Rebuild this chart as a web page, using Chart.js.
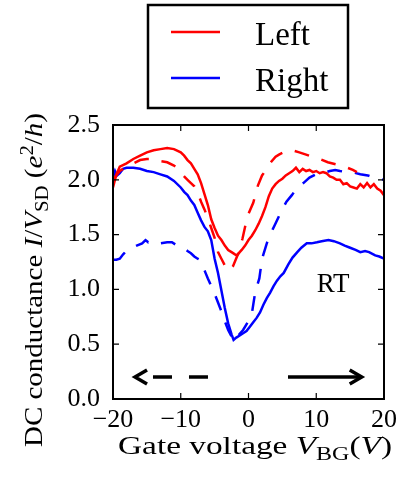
<!DOCTYPE html>
<html><head><meta charset="utf-8">
<script src="https://cdn.jsdelivr.net/npm/chart.js@4"></script>
<style>html,body{margin:0;padding:0;background:#fff;}#wrap{width:413px;height:479px;}</style>
</head><body><div id="wrap"><canvas id="c" width="413" height="479"></canvas></div>
<script>
// ---- data ----
const seriesNames = ['Left', 'Right'];
const xTicks = [-20, -10, 0, 10, 20];
const yTicks = [0, 0.5, 1.0, 1.5, 2.0, 2.5];

// Left, forward sweep (solid red)
const leftFwdX = [-20,-19.5,-19,-18,-17,-16,-15,-14,-13,-12,-11,-10,-9.5,-9,-8.5,-8,-7.5,-7,-6.5,-6,-5.5,-5,-4.5,-4,-3.5,-3,-2.5,-2,-1.7,-1.3,-1,-0.5,0,0.5,1,1.5,2,2.5,3,3.5,4,4.5,5,5.5,6,6.5,7,7.5,8,8.5,9,9.5,10,10.5,11,11.5,12,12.5,13,13.5,14,14.5,15,15.5,16,16.5,17,17.5,18,18.5,19,19.5,20];
const leftFwdY = [1.93,2.05,2.12,2.15,2.19,2.22,2.25,2.27,2.28,2.29,2.28,2.25,2.22,2.18,2.15,2.10,2.05,1.97,1.87,1.77,1.64,1.56,1.49,1.45,1.40,1.36,1.34,1.32,1.31,1.34,1.36,1.40,1.45,1.49,1.54,1.60,1.67,1.75,1.85,1.92,1.96,1.99,2.01,2.04,2.06,2.08,2.11,2.07,2.10,2.08,2.09,2.07,2.08,2.06,2.07,2.06,2.03,2.02,2.00,2.00,1.96,1.97,1.94,1.93,1.92,1.96,1.93,1.97,1.93,1.96,1.92,1.90,1.86];
// Left, backward sweep (dashed red)
const leftBwdX = [-20,-19,-18,-17,-16,-15,-14,-13,-12,-11,-10.5,-10,-9.5,-9,-8.5,-8,-7.5,-7,-6.5,-6,-5.5,-5,-4.5,-4,-3.5,-3.2,-2.8,-2.3,-1.5,-0.9,-0.4,0,0.7,1.4,2,2.7,3.3,4,4.5,5.5,6.4,7.5,8.5,9.4,10.5,11.7,13,14.2,15.4,16];
const leftBwdY = [2.0,2.08,2.12,2.15,2.18,2.19,2.19,2.17,2.16,2.13,2.11,2.07,2.03,2.0,1.97,1.94,1.88,1.80,1.73,1.65,1.56,1.47,1.34,1.28,1.22,1.19,1.17,1.21,1.33,1.46,1.60,1.69,1.79,1.95,2.04,2.10,2.16,2.21,2.23,2.26,2.27,2.25,2.23,2.21,2.19,2.16,2.14,2.12,2.09,2.07];
// Right, forward sweep (solid blue)
const rightFwdX = [-20,-19.7,-19.4,-19,-18.5,-18,-17,-16,-15,-14,-13,-12,-11,-10,-9.5,-9,-8.5,-8,-7.5,-7,-6.5,-6,-5.5,-5,-4.5,-4,-3.5,-3,-2.5,-2.2,-1.8,-1.3,-0.8,-0.3,0.2,0.7,1.2,1.7,2.2,2.7,3.2,3.7,4.2,4.7,5.2,5.9,6.5,7.2,7.8,8.6,9.3,10.1,10.8,11.8,12.6,13.5,14.2,15,15.8,16.5,17.2,17.8,18.7,19.3,20];
const rightFwdY = [2.02,2.08,2.04,2.06,2.10,2.11,2.11,2.10,2.08,2.07,2.05,2.03,1.99,1.93,1.89,1.86,1.81,1.77,1.70,1.63,1.57,1.53,1.45,1.28,1.15,0.99,0.83,0.69,0.59,0.54,0.56,0.58,0.60,0.62,0.66,0.70,0.74,0.79,0.86,0.92,0.97,1.03,1.08,1.12,1.15,1.23,1.29,1.34,1.38,1.42,1.42,1.43,1.44,1.45,1.44,1.42,1.40,1.38,1.36,1.34,1.35,1.34,1.31,1.30,1.28];
// Right, backward sweep (dashed blue)
const rightBwdX = [-20,-19.5,-19,-18.5,-18.2,-17.5,-16.5,-15.7,-15.2,-14.8,-14.3,-13.8,-13,-12,-11.3,-10.8,-10.3,-9.8,-9.4,-9,-8.5,-8,-7.5,-7.2,-6.8,-6.4,-6,-5.5,-5,-4.5,-4,-3.5,-3,-2.5,-2.2,-1.5,-0.8,-0.3,0.5,1,1.6,2,2.7,3.2,3.9,4.9,5.6,6.4,7.2,8.1,9,10,11,12,12.8,13.5,14.5,15.3,16.5,17.6,18.5,19.3,20];
const rightBwdY = [1.27,1.27,1.28,1.32,1.34,1.37,1.40,1.42,1.45,1.43,1.44,1.43,1.42,1.43,1.43,1.41,1.40,1.38,1.37,1.35,1.33,1.30,1.28,1.27,1.22,1.16,1.10,1.03,0.96,0.88,0.80,0.71,0.63,0.57,0.53,0.58,0.63,0.68,0.78,0.98,1.10,1.28,1.42,1.50,1.59,1.72,1.80,1.86,1.93,1.97,2.02,2.05,2.06,2.08,2.09,2.08,2.07,2.07,2.05,2.04,2.02,2.01,2.00];

// sweep-direction arrows (data coords): [tail, head]
const arrowBackX = [-5.98, -16.75];
const arrowFwdX = [5.83, 16.71];
const arrowY = 0.2;
// annotation
const annotText = 'RT';
const annotX = 10.07, annotY = 0.98;

const FONT = '"Liberation Serif", "DejaVu Serif", serif';
const pts = (xs, ys) => xs.map((x, i) => ({x: x, y: ys[i]}));

// rich text (axis titles) pieces
const xTitle = [
  {t: 'Gate voltage ', s: '', k: 1, dy: 0},
  {t: 'V', s: 'italic', k: 1, dy: 0},
  {t: 'BG', s: '', k: 0.72, dy: 0.22},
  {t: '(', s: '', k: 1, dy: 0},
  {t: 'V', s: 'italic', k: 1, dy: 0},
  {t: ')', s: '', k: 1, dy: 0}
];
const yTitle = [
  {t: 'DC conductance ', s: '', k: 1, dy: 0},
  {t: 'I', s: 'italic', k: 1, dy: 0},
  {t: '/', s: '', k: 1, dy: 0},
  {t: 'V', s: 'italic', k: 1, dy: 0},
  {t: 'SD', s: '', k: 0.72, dy: 0.22},
  {t: ' (', s: '', k: 1, dy: 0},
  {t: 'e', s: 'italic', k: 1, dy: 0},
  {t: '2', s: '', k: 0.72, dy: -0.38},
  {t: '/', s: '', k: 1, dy: 0},
  {t: 'h', s: 'italic', k: 1, dy: 0},
  {t: ')', s: '', k: 1, dy: 0}
];

// draws the pieces at a fixed font size, stretched horizontally to the target length
function drawRich(ctx, pieces, cx, cy, rot, size, targetW) {
  let tot = 0;
  pieces.forEach(p => { ctx.font = `${p.s} ${size * p.k}px ${FONT}`; tot += ctx.measureText(p.t).width; });
  const sx = targetW / tot;
  ctx.save();
  ctx.translate(cx, cy);
  ctx.rotate(rot);
  ctx.scale(sx, 1);
  ctx.fillStyle = '#000';
  ctx.textBaseline = 'alphabetic';
  ctx.textAlign = 'left';
  let x = -tot / 2;
  pieces.forEach(p => {
    ctx.font = `${p.s} ${size * p.k}px ${FONT}`;
    ctx.fillText(p.t, x, p.dy * size);
    x += ctx.measureText(p.t).width;
  });
  ctx.restore();
}

function drawArrow(ctx, x0, x1, y, dashed) {
  ctx.save();
  ctx.strokeStyle = '#000';
  ctx.lineWidth = 3.5;
  ctx.lineCap = 'butt';
  if (dashed) ctx.setLineDash([19, 17]);
  ctx.beginPath(); ctx.moveTo(x0, y); ctx.lineTo(x1, y); ctx.stroke();
  ctx.setLineDash([]);
  const dir = x1 > x0 ? 1 : -1;
  ctx.lineJoin = 'miter';
  ctx.beginPath();
  ctx.moveTo(x1 - dir * 12, y - 7);
  ctx.lineTo(x1, y);
  ctx.lineTo(x1 - dir * 12, y + 7);
  ctx.stroke();
  ctx.restore();
}

const decor = {
  id: 'decor',
  afterDatasetsDraw(chart) {
    const ctx = chart.ctx, a = chart.chartArea;
    const xs = chart.scales.x, ys = chart.scales.y;
    ctx.save();
    // frame
    ctx.strokeStyle = '#000'; ctx.lineWidth = 2;
    ctx.strokeRect(a.left, a.top, a.right - a.left, a.bottom - a.top);
    // inward ticks on all sides
    ctx.lineWidth = 1.2;
    ctx.beginPath();
    xTicks.forEach(v => {
      const p = xs.getPixelForValue(v);
      ctx.moveTo(p, a.bottom); ctx.lineTo(p, a.bottom - 6);
      ctx.moveTo(p, a.top); ctx.lineTo(p, a.top + 6);
    });
    yTicks.forEach(v => {
      const p = ys.getPixelForValue(v);
      ctx.moveTo(a.left, p); ctx.lineTo(a.left + 6, p);
      ctx.moveTo(a.right, p); ctx.lineTo(a.right - 6, p);
    });
    ctx.stroke();
    // arrows
    const ay = ys.getPixelForValue(arrowY);
    drawArrow(ctx, xs.getPixelForValue(arrowBackX[0]), xs.getPixelForValue(arrowBackX[1]), ay, true);
    drawArrow(ctx, xs.getPixelForValue(arrowFwdX[0]), xs.getPixelForValue(arrowFwdX[1]), ay, false);
    // annotation
    ctx.fillStyle = '#000';
    ctx.font = `27px ${FONT}`;
    ctx.textAlign = 'left'; ctx.textBaseline = 'alphabetic';
    ctx.fillText(annotText, xs.getPixelForValue(annotX), ys.getPixelForValue(annotY));
    ctx.restore();
  },
  afterDraw(chart) {
    const ctx = chart.ctx;
    // axis titles
    drawRich(ctx, xTitle, 255, 454, 0, 26, 274);
    drawRich(ctx, yTitle, 42, 280, -Math.PI / 2, 25, 334);
    // legend (framed box, upper centre)
    ctx.save();
    ctx.strokeStyle = '#000'; ctx.lineWidth = 2.5;
    ctx.fillStyle = '#fff';
    ctx.fillRect(148, 5, 200, 103);
    ctx.strokeRect(148, 5, 200, 103);
    const entries = chart.data.datasets.filter(d => d.showInLegend);
    entries.forEach((d, i) => {
      const y = 32 + i * 46;
      ctx.strokeStyle = d.borderColor; ctx.lineWidth = 2.5;
      ctx.beginPath(); ctx.moveTo(171, y); ctx.lineTo(220, y); ctx.stroke();
      ctx.fillStyle = '#000';
      ctx.font = `33px ${FONT}`;
      ctx.textAlign = 'left'; ctx.textBaseline = 'alphabetic';
      ctx.fillText(d.label, 255, y + 13);
    });
    ctx.restore();
  }
};

const common = {pointRadius: 0, borderWidth: 2.5, tension: 0, fill: false};
new Chart(document.getElementById('c'), {
  type: 'line',
  data: {
    datasets: [
      Object.assign({label: seriesNames[0], showInLegend: true, data: pts(leftFwdX, leftFwdY), borderColor: '#ff0000'}, common),
      Object.assign({label: seriesNames[0] + ' (back)', showInLegend: false, data: pts(leftBwdX, leftBwdY), borderColor: '#ff0000', borderDash: [15, 13]}, common),
      Object.assign({label: seriesNames[1], showInLegend: true, data: pts(rightFwdX, rightFwdY), borderColor: '#0000ff'}, common),
      Object.assign({label: seriesNames[1] + ' (back)', showInLegend: false, data: pts(rightBwdX, rightBwdY), borderColor: '#0000ff', borderDash: [15, 13]}, common)
    ]
  },
  options: {
    responsive: false,
    animation: false,
    devicePixelRatio: 1,
    layout: {padding: {left: 0, top: 125, right: 29, bottom: 0}},
    plugins: {legend: {display: false}, tooltip: {enabled: false}},
    scales: {
      x: {
        type: 'linear', min: -20, max: 20,
        afterBuildTicks: s => { s.ticks = xTicks.map(v => ({value: v})); },
        ticks: {color: '#000', padding: 6, font: {family: FONT, size: 26},
          callback: v => String(v).replace('-', '\u2212')},
        grid: {display: false, drawTicks: false},
        border: {display: false},
        afterFit: s => { s.height = 80; }
      },
      y: {
        type: 'linear', min: 0, max: 2.5,
        afterBuildTicks: s => { s.ticks = yTicks.map(v => ({value: v})); },
        ticks: {color: '#000', padding: 13, font: {family: FONT, size: 26},
          callback: v => Number(v).toFixed(1)},
        grid: {display: false, drawTicks: false},
        border: {display: false},
        afterFit: s => { s.width = 113; }
      }
    }
  },
  plugins: [decor]
});
</script>
</body></html>
